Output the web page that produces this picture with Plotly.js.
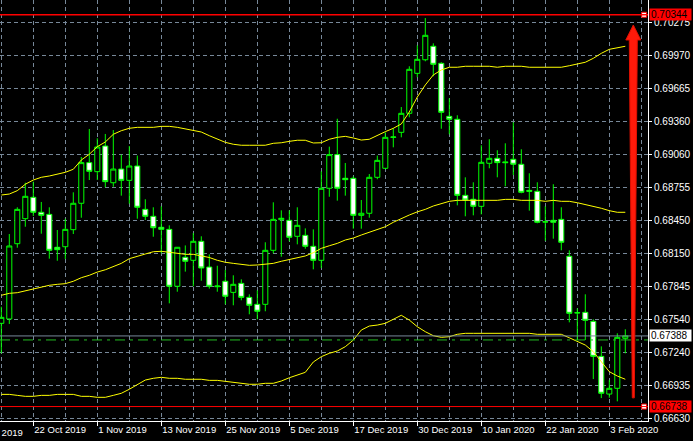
<!DOCTYPE html>
<html><head><meta charset="utf-8">
<script src="https://cdn.plot.ly/plotly-3.0.1.min.js"></script>
<style>html,body{margin:0;padding:0;background:#000;overflow:hidden}#chart{width:693px;height:441px}</style>
</head><body><div id="chart"></div>
<script>
// Daily candles (bar index 0 = 16 Oct 2019 ... 78 = 5 Feb 2020)
const openP = [0.67504,0.67544,0.68237,0.68467,0.68664,0.68526,0.68507,0.68204,0.68209,0.68366,
0.68609,0.68983,0.68900,0.69136,0.68798,0.68924,0.68820,0.68952,0.68553,0.68489,
0.68388,0.68369,0.67845,0.68112,0.68084,0.68259,0.68022,0.67841,0.67891,0.67789,
0.67872,0.67743,0.67679,0.67679,0.68176,0.68458,0.68452,0.68305,0.68314,0.68213,
0.68084,0.68747,0.69057,0.68839,0.68839,0.68498,0.68517,0.68848,0.68931,0.69216,
0.69262,0.69437,0.69805,0.69930,0.70054,0.69897,0.69409,0.69382,0.68682,0.68646,
0.68581,0.68977,0.69023,0.68990,0.69014,0.68968,0.68728,0.68719,0.68439,0.68452,
0.68461,0.68121,0.67599,0.67605,0.67522,0.67200,0.66853,0.66906,0.67366];
const highP = [0.67657,0.68326,0.68572,0.68798,0.68808,0.68621,0.68572,0.68363,0.68467,0.68710,
0.69035,0.69293,0.69207,0.69247,0.69283,0.69057,0.69136,0.69048,0.68646,0.68572,
0.68581,0.68406,0.68206,0.68221,0.68335,0.68305,0.68139,0.68034,0.67995,0.67946,
0.67909,0.67771,0.67808,0.68250,0.68618,0.68544,0.68544,0.68572,0.68378,0.68369,
0.68903,0.69130,0.69387,0.68980,0.68857,0.68639,0.68878,0.69048,0.69262,0.69299,
0.69495,0.69870,0.70063,0.70314,0.70081,0.69907,0.69575,0.69419,0.68848,0.68802,
0.69143,0.69198,0.69097,0.69161,0.69354,0.69106,0.68885,0.68802,0.68581,0.68784,
0.68572,0.68176,0.67642,0.67771,0.67541,0.67292,0.66982,0.67412,0.67449];
const lowP = [0.67228,0.67498,0.68200,0.68393,0.68492,0.68329,0.68099,0.68080,0.68096,0.68326,
0.68476,0.68823,0.68823,0.68756,0.68761,0.68679,0.68605,0.68467,0.68455,0.68301,
0.68148,0.67688,0.67795,0.67980,0.67845,0.67896,0.67823,0.67795,0.67679,0.67670,
0.67716,0.67587,0.67541,0.67615,0.68148,0.68117,0.68259,0.68231,0.68191,0.68001,
0.68013,0.68669,0.68633,0.68679,0.68375,0.68375,0.68476,0.68830,0.68924,0.69124,
0.69216,0.69400,0.69768,0.69916,0.69778,0.69295,0.69244,0.68590,0.68489,0.68498,
0.68507,0.68931,0.68848,0.68765,0.68869,0.68701,0.68541,0.68425,0.68264,0.68283,
0.68176,0.67513,0.67350,0.67350,0.66991,0.66816,0.66819,0.66786,0.67228];
const closeP = [0.67559,0.68216,0.68553,0.68673,0.68526,0.68498,0.68176,0.68182,0.68369,0.68609,
0.68983,0.68903,0.69127,0.68808,0.68924,0.68820,0.68952,0.68572,0.68489,0.68384,
0.68369,0.67845,0.68204,0.68075,0.68259,0.68013,0.67845,0.67847,0.67753,0.67863,
0.67743,0.67670,0.67615,0.68176,0.68461,0.68471,0.68296,0.68406,0.68213,0.68084,
0.68747,0.69057,0.68747,0.68826,0.68498,0.68517,0.68848,0.69004,0.69216,0.69219,
0.69437,0.69842,0.69934,0.70155,0.69888,0.69446,0.69382,0.68682,0.68639,0.68581,
0.68986,0.69023,0.68983,0.68983,0.68968,0.68710,0.68719,0.68434,0.68437,0.68434,
0.68250,0.67596,0.67602,0.67532,0.67200,0.66860,0.66906,0.67375,0.67388];
// Bollinger bands as drawn
const bbUpper = [0.68685,0.68694,0.68725,0.68784,0.68823,0.68848,0.68860,0.68878,0.68894,0.68922,
0.69007,0.69060,0.69130,0.69173,0.69244,0.69277,0.69299,0.69308,0.69308,0.69308,
0.69317,0.69317,0.69308,0.69295,0.69283,0.69265,0.69231,0.69198,0.69170,0.69152,
0.69143,0.69143,0.69143,0.69143,0.69161,0.69166,0.69179,0.69189,0.69189,0.69164,
0.69166,0.69198,0.69216,0.69225,0.69210,0.69191,0.69198,0.69235,0.69268,0.69299,
0.69339,0.69449,0.69587,0.69698,0.69790,0.69836,0.69861,0.69861,0.69870,0.69870,
0.69870,0.69870,0.69861,0.69870,0.69870,0.69870,0.69861,0.69861,0.69861,0.69861,
0.69861,0.69875,0.69891,0.69907,0.69943,0.69989,0.70026,0.70041,0.70054];
const bbMiddle = [0.67762,0.67780,0.67786,0.67804,0.67817,0.67841,0.67854,0.67863,0.67869,0.67891,
0.67924,0.67946,0.67976,0.67997,0.68025,0.68056,0.68099,0.68117,0.68142,0.68163,
0.68167,0.68158,0.68151,0.68139,0.68139,0.68126,0.68110,0.68084,0.68066,0.68056,
0.68047,0.68038,0.68041,0.68047,0.68056,0.68075,0.68093,0.68112,0.68124,0.68154,
0.68194,0.68218,0.68240,0.68271,0.68289,0.68317,0.68342,0.68363,0.68393,0.68434,
0.68471,0.68501,0.68530,0.68553,0.68584,0.68602,0.68627,0.68636,0.68636,0.68636,
0.68636,0.68636,0.68636,0.68645,0.68645,0.68636,0.68636,0.68636,0.68627,0.68636,
0.68627,0.68627,0.68614,0.68599,0.68581,0.68563,0.68541,0.68526,0.68526];
const bbLower = [0.66850,0.66850,0.66841,0.66832,0.66832,0.66841,0.66841,0.66850,0.66850,0.66850,
0.66832,0.66832,0.66823,0.66823,0.66841,0.66860,0.66897,0.66936,0.66982,0.66998,
0.67007,0.66998,0.66998,0.66989,0.66989,0.66989,0.66979,0.66979,0.66970,0.66961,
0.66952,0.66943,0.66943,0.66952,0.66952,0.66973,0.67003,0.67025,0.67053,0.67148,
0.67197,0.67228,0.67249,0.67289,0.67350,0.67442,0.67479,0.67488,0.67504,0.67541,
0.67578,0.67534,0.67473,0.67427,0.67390,0.67375,0.67381,0.67403,0.67412,0.67412,
0.67412,0.67412,0.67412,0.67412,0.67412,0.67412,0.67412,0.67403,0.67403,0.67403,
0.67403,0.67371,0.67335,0.67304,0.67243,0.67151,0.67059,0.67019,0.66989];
const priceTicks = [0.70275,0.69970,0.69665,0.69360,0.69060,0.68755,0.68450,0.68150,0.67845,0.67540,0.67240,0.66935,0.66630];
const dateLabels = ["10 Oct 2019","22 Oct 2019","1 Nov 2019","13 Nov 2019","25 Nov 2019","5 Dec 2019","17 Dec 2019","30 Dec 2019","10 Jan 2020","22 Jan 2020","3 Feb 2020"];
const dateLabelBars = [-4,4,12,20,28,36,44,52,60,68,76];
const highLevel = 0.70344, lowLevel = 0.66738, bidPrice = 0.67388, dashedLevel = 0.67351;
const arrowBar = 79, arrowFrom = 0.66818, arrowTo = 0.70250, arrowHeadBase = 0.70112;

const bars = openP.map((_, i) => i);
const xRange = [-0.1625, 80.8375];
const yRange = [0.66605, 0.70480];
const FONT = 'Liberation Sans, Arial, sans-serif';
const GRID = '#778899';

const traces = [
  {type:'scatter', mode:'lines', x:bars, y:bbUpper, line:{color:'#ffff00', width:1}, hoverinfo:'skip'},
  {type:'scatter', mode:'lines', x:bars, y:bbMiddle, line:{color:'#ffff00', width:1}, hoverinfo:'skip'},
  {type:'scatter', mode:'lines', x:bars, y:bbLower, line:{color:'#ffff00', width:1}, hoverinfo:'skip'},
  {type:'candlestick', x:bars, open:openP, high:highP, low:lowP, close:closeP,
   increasing:{line:{color:'#00ff00', width:1}, fillcolor:'#000000'},
   decreasing:{line:{color:'#00ff00', width:1}, fillcolor:'#ffffff'},
   whiskerwidth:0, hoverinfo:'skip'},
  {type:'scatter', mode:'markers', x:[80.35, 80.35], y:[highLevel, lowLevel], cliponaxis:false,
   marker:{symbol:'square', size:5, color:'#ffffff', line:{color:'#ff0000', width:1}}, hoverinfo:'skip'}
];

const visLabels = dateLabels.filter((_, i) => dateLabelBars[i] >= xRange[0]);
const visBars = dateLabelBars.filter(b => b >= xRange[0]);
const hiddenIdx = dateLabelBars.findIndex(b => b < xRange[0]);

// arrow built from its read values
const hw = [1/8, 4/8, 7.5/8];
const arrowPath = `M ${arrowBar} ${arrowTo} L ${arrowBar+hw[2]} ${arrowHeadBase} L ${arrowBar+hw[1]} ${arrowHeadBase} L ${arrowBar+hw[0]} ${arrowFrom} L ${arrowBar-hw[0]} ${arrowFrom} L ${arrowBar-hw[1]} ${arrowHeadBase} L ${arrowBar-hw[2]} ${arrowHeadBase} Z`;

const shapes = [
  {type:'line', xref:'paper', x0:0, x1:1, yref:'y', y0:dashedLevel, y1:dashedLevel, line:{color:'#22bb22', width:1, dash:'10px,5px,3px,5px'}, layer:'above'},
  {type:'line', xref:'paper', x0:0, x1:1, yref:'y', y0:bidPrice, y1:bidPrice, line:{color:GRID, width:1}, layer:'above'},
  {type:'line', xref:'paper', x0:0, x1:1, yref:'y', y0:highLevel, y1:highLevel, line:{color:'#ff0000', width:1.5}, layer:'above'},
  {type:'line', xref:'paper', x0:0, x1:1, yref:'y', y0:lowLevel, y1:lowLevel, line:{color:'#ff0000', width:1}, layer:'above'},
  {type:'path', xref:'x', yref:'y', path:arrowPath, fillcolor:'#ff1a0a', line:{color:'#e01000', width:1}, layer:'above'}
];

function priceBox(v, bg, fg){
  return {xref:'paper', x:1, xanchor:'left', xshift:1, yref:'y', y:v, yanchor:'middle',
    text:v.toFixed(5), showarrow:false, bgcolor:bg, font:{color:fg, size:10, family:FONT},
    width:39, height:9, align:'left', borderpad:1};
}
const annotations = [
  priceBox(highLevel, '#ff0000', '#000000'),
  priceBox(lowLevel, '#ff0000', '#000000'),
  priceBox(bidPrice, '#ffffff', '#000000')
];
if (hiddenIdx >= 0) {
  annotations.push({xref:'x domain', x:(dateLabelBars[hiddenIdx]-xRange[0])/(xRange[1]-xRange[0]), xanchor:'left',
    yref:'paper', y:0, yanchor:'top', yshift:-4, text:dateLabels[hiddenIdx], showarrow:false,
    font:{color:'#ffffff', size:9.5, family:FONT}});
}

const layout = {
  width:693, height:441, margin:{l:0, r:45, t:0, b:20},
  paper_bgcolor:'#000000', plot_bgcolor:'#000000', showlegend:false,
  boxgap:0.1, boxgroupgap:0.3,
  xaxis:{range:xRange, rangeslider:{visible:false}, tickmode:'array', tickvals:visBars, ticktext:visLabels,
    ticklabelposition:'outside right', ticks:'outside', ticklen:4, tickcolor:'#ffffff',
    showgrid:true, gridcolor:GRID, griddash:'4px,3px', gridwidth:1,
    minor:{tickmode:'linear', tick0:0, dtick:4, showgrid:true, gridcolor:GRID, griddash:'4px,3px', ticklen:0},
    showline:true, linecolor:'#ffffff', linewidth:1, zeroline:false, automargin:false,
    tickfont:{color:'#ffffff', size:9.5, family:FONT}},
  yaxis:{range:yRange, side:'right', tickmode:'array', tickvals:priceTicks, ticktext:priceTicks.map(v=>v.toFixed(5)),
    ticks:'outside', ticklen:3, tickcolor:'#ffffff', showgrid:true, gridcolor:GRID, griddash:'4px,3px', gridwidth:1,
    showline:true, linecolor:'#ffffff', linewidth:1, zeroline:false, automargin:false,
    tickfont:{color:'#ffffff', size:10, family:FONT}},
  shapes:shapes, annotations:annotations
};

Plotly.newPlot('chart', traces, layout, {staticPlot:true, displayModeBar:false});
</script></body></html>
